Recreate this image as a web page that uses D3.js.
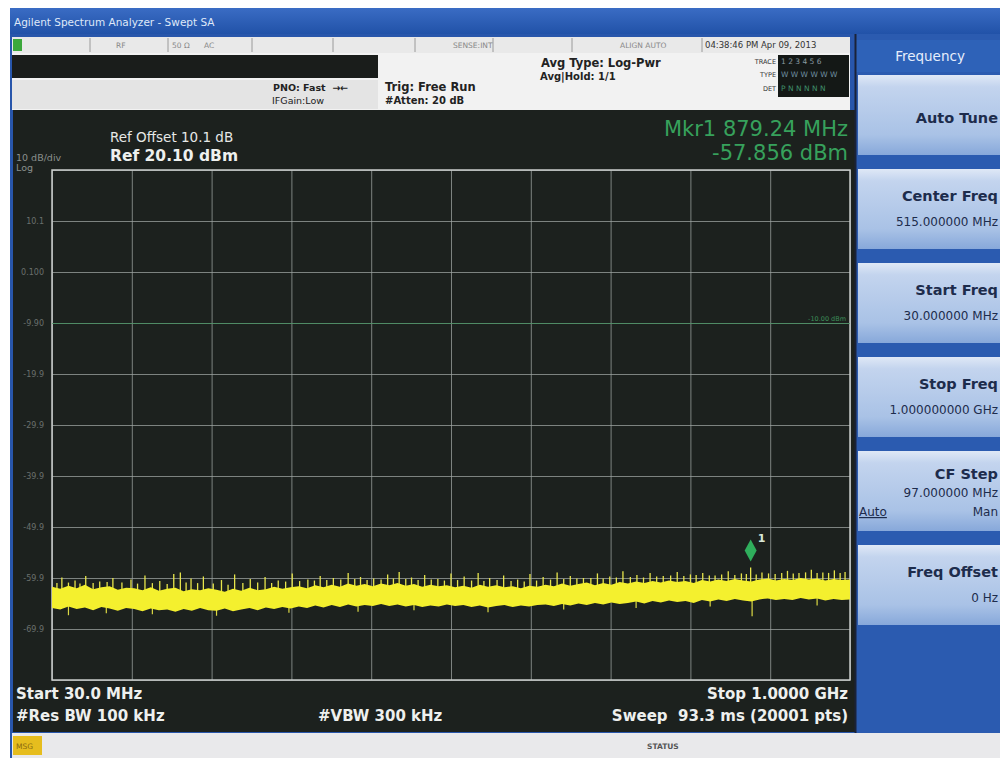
<!DOCTYPE html>
<html>
<head>
<meta charset="utf-8">
<script src="https://cdn.jsdelivr.net/npm/d3@7"></script>
<style>
body { margin: 0; background: #fff; }
text { font-family: "DejaVu Sans", "Liberation Sans", Arial, sans-serif; white-space: pre; }
</style>
</head>
<body>
<div id="chart"></div>
<script>
const startMHz = 30, stopMHz = 1000
const refLevel = 20.1, dbPerDiv = 10, divisions = 10

const yTickValues = [10.1, 0.1, -9.9, -19.9, -29.9, -39.9, -49.9, -59.9, -69.9]
const yTickLabels = ['10.1', '0.100', '-9.90', '-19.9', '-29.9', '-39.9', '-49.9', '-59.9', '-69.9']

// envelope of the noise trace, one pair every 10 MHz from 30 MHz to 1000 MHz
const envFreqs = [30,40,50,60,70,80,90,100,110,120,130,140,150,160,170,180,190,200,210,220,
  230,240,250,260,270,280,290,300,310,320,330,340,350,360,370,380,390,400,410,420,
  430,440,450,460,470,480,490,500,510,520,530,540,550,560,570,580,590,600,610,620,
  630,640,650,660,670,680,690,700,710,720,730,740,750,760,770,780,790,800,810,820,
  830,840,850,860,870,880,890,900,910,920,930,940,950,960,970,980,990,1000]

const envTop = [-61.6,-62.0,-61.4,-61.9,-61.2,-62.1,-61.7,-61.5,-62.2,-61.8,
  -61.9,-62.3,-61.7,-62.4,-62.0,-61.8,-62.5,-62.1,-62.3,-61.9,
  -62.2,-62.6,-62.0,-62.4,-61.8,-62.3,-62.1,-61.6,-62.0,-61.7,
  -61.5,-61.9,-61.3,-61.7,-61.2,-61.6,-61.0,-61.4,-61.1,-61.5,
  -61.0,-61.3,-60.9,-61.4,-61.1,-61.6,-61.2,-61.5,-61.3,-61.7,
  -61.4,-61.8,-61.2,-61.6,-61.3,-61.7,-61.5,-61.9,-61.4,-61.6,
  -61.2,-61.5,-61.0,-61.4,-61.1,-60.8,-61.3,-60.9,-61.2,-60.7,
  -61.0,-60.6,-60.9,-60.5,-60.8,-60.4,-60.7,-60.5,-60.9,-60.3,
  -60.6,-60.2,-60.5,-60.1,-60.4,-60.6,-60.2,-60.0,-60.4,-60.1,
  -60.3,-59.9,-60.2,-60.0,-60.4,-60.1,-60.3,-60.2]

const envBottom = [-65.8,-66.1,-65.5,-66.0,-65.7,-66.2,-65.6,-65.9,-66.3,-65.8,
  -66.0,-66.4,-65.9,-66.2,-66.1,-66.5,-66.0,-66.3,-65.8,-66.2,
  -66.3,-65.9,-66.4,-66.1,-65.8,-66.2,-65.7,-66.0,-65.6,-65.9,
  -65.5,-65.8,-65.3,-65.7,-65.2,-65.6,-65.1,-65.5,-65.2,-65.4,
  -65.0,-65.4,-65.1,-65.5,-65.2,-65.6,-65.3,-65.5,-65.1,-65.4,
  -65.2,-65.6,-65.3,-65.7,-65.4,-65.2,-65.6,-65.3,-65.5,-65.2,
  -65.1,-65.4,-65.0,-65.3,-64.9,-65.2,-64.8,-65.1,-64.7,-65.0,
  -64.8,-64.5,-64.9,-64.4,-64.7,-64.3,-64.6,-64.4,-64.8,-64.2,
  -64.5,-64.1,-64.4,-64.0,-64.3,-64.5,-64.1,-63.9,-64.2,-64.0,
  -64.2,-63.8,-64.1,-63.9,-64.3,-64.0,-64.2,-64.1]

// [MHz, dBm] peaks poking above the noise band
const spikes = [[36,-60.9],[42,-59.8],[50,-60.8],[58,-60.4],[64,-61.0],[71,-59.5],[80,-60.9],[88,-60.6],
  [97,-60.7],[104,-59.9],[115,-60.8],[126,-60.2],[134,-61.0],[143,-59.4],[152,-60.9],[161,-60.5],
  [170,-61.1],[178,-59.1],[186,-58.8],[193,-60.8],[199,-60.0],[207,-60.9],[214,-59.6],[226,-61.0],
  [236,-60.3],[244,-61.2],[252,-59.2],[262,-60.9],[271,-60.1],[280,-60.8],[289,-59.7],[297,-60.9],
  [305,-60.4],[314,-60.6],[322,-59.0],[331,-60.5],[341,-60.2],[349,-60.4],[356,-59.5],[364,-60.3],
  [372,-59.9],[381,-60.2],[390,-58.9],[398,-60.1],[405,-59.7],[413,-60.3],[421,-60.0],[430,-60.2],
  [438,-59.2],[445,-60.0],[452,-58.7],[460,-60.1],[467,-59.8],[475,-60.3],[483,-59.3],[491,-60.2],
  [499,-60.1],[507,-60.4],[515,-59.0],[523,-60.3],[531,-59.6],[540,-60.4],[548,-58.9],[555,-60.5],
  [562,-59.9],[571,-60.3],[579,-59.4],[588,-60.5],[596,-60.2],[604,-60.6],[611,-59.1],[619,-60.4],
  [627,-59.7],[636,-60.2],[644,-58.8],[652,-60.1],[660,-59.5],[668,-60.0],[676,-59.9],[685,-59.9],
  [693,-59.0],[700,-60.0],[708,-59.6],[716,-59.8],[724,-58.6],[733,-59.7],[741,-59.3],[749,-59.8],
  [757,-58.9],[765,-59.6],[773,-59.5],[782,-59.4],[790,-58.7],[798,-59.5],[806,-59.2],[813,-59.3],
  [821,-58.9],[829,-59.4],[836,-59.4],[844,-59.2],[852,-58.6],[860,-59.3],[868,-59.0],[874,-59.1],
  [879.24,-57.856],[886,-59.2],[893,-58.8],[901,-59.0],[909,-59.1],[917,-58.9],[924,-58.5],
  [931,-59.0],[938,-58.9],[946,-58.8],[953,-58.3],[960,-58.9],[967,-58.8],[974,-58.9],[981,-58.4],
  [988,-58.9],[994,-58.7]]

// [MHz, dBm] dips below the noise band
const dips = [[50,-67.2],[96,-66.8],[152,-67.0],[230,-67.3],[318,-66.7],[402,-66.5],[470,-66.2],
  [560,-66.6],[652,-66.1],[740,-65.8],[830,-65.5],[881,-67.4],[960,-65.3]]

const marker = {num: 1, freq: 879.24, level: -57.856}
const displayLine = -10

const softkeys = [
  {label: 'Auto Tune'},
  {label: 'Center Freq', value: '515.000000 MHz'},
  {label: 'Start Freq', value: '30.000000 MHz'},
  {label: 'Stop Freq', value: '1.000000000 GHz'},
  {label: 'CF Step', value: '97.000000 MHz', auto: true},
  {label: 'Freq Offset', value: '0 Hz'}
]

const width = 1000, height = 758
const plot = {left: 52, right: 850, top: 170, bottom: 680}

const svg = d3.select('#chart')
  .append('svg')
  .attr('width', width)
  .attr('height', height)

const defs = svg.append('defs')

const keyGrad = defs.append('linearGradient').attr('id', 'key').attr('x1', 0).attr('y1', 0).attr('x2', 0).attr('y2', 1)
keyGrad.append('stop').attr('offset', '0%').attr('stop-color', '#dfe8f6')
keyGrad.append('stop').attr('offset', '15%').attr('stop-color', '#c3d4ee')
keyGrad.append('stop').attr('offset', '75%').attr('stop-color', '#a9c2e6')
keyGrad.append('stop').attr('offset', '100%').attr('stop-color', '#87a8da')

const titleGrad = defs.append('linearGradient').attr('id', 'title').attr('x1', 0).attr('y1', 0).attr('x2', 0).attr('y2', 1)
titleGrad.append('stop').attr('offset', '0%').attr('stop-color', '#3a6cc4')
titleGrad.append('stop').attr('offset', '100%').attr('stop-color', '#2152a8')

defs.append('clipPath').attr('id', 'plot-clip')
  .append('rect').attr('x', plot.left).attr('y', plot.top)
  .attr('width', plot.right - plot.left).attr('height', plot.bottom - plot.top)

// window frame
svg.append('rect').attr('x', 10).attr('y', 8).attr('width', 990).attr('height', 750).attr('fill', '#2856ab')
svg.append('rect').attr('x', 10).attr('y', 8).attr('width', 990).attr('height', 26).attr('fill', 'url(#title)')
svg.append('text').attr('x', 14).attr('y', 26)
  .attr('font-size', 10.5).attr('fill', '#dfe8f8')
  .text('Agilent Spectrum Analyzer - Swept SA')

// status strip
const strip = svg.append('g')
strip.append('rect').attr('x', 12).attr('y', 37).attr('width', 838).attr('height', 16).attr('fill', '#e9e9e9')
strip.append('rect').attr('x', 13).attr('y', 39).attr('width', 9).attr('height', 12).attr('fill', '#3ca83c')
strip.selectAll('line')
  .data([90, 168, 252, 333, 415, 493, 572, 702])
  .enter().append('line')
  .attr('x1', d => d).attr('x2', d => d).attr('y1', 38).attr('y2', 52)
  .attr('stroke', '#9a9a9a')
strip.selectAll('text')
  .data([[116, 'RF'], [172, '50 Ω'], [204, 'AC'], [453, 'SENSE:INT'], [620, 'ALIGN AUTO'], [705, '04:38:46 PM Apr 09, 2013']])
  .enter().append('text')
  .attr('x', d => d[0]).attr('y', 48)
  .attr('font-size', d => d[0] > 700 ? 8.5 : 7.5)
  .attr('fill', d => d[0] > 700 ? '#333' : '#888')
  .text(d => d[1])

// settings area
const info = svg.append('g')
info.append('rect').attr('x', 12).attr('y', 53).attr('width', 838).attr('height', 57).attr('fill', '#f2f2f2')
info.append('rect').attr('x', 12).attr('y', 55).attr('width', 366).attr('height', 23).attr('fill', '#1a1d1b')
info.append('rect').attr('x', 12).attr('y', 80).attr('width', 366).attr('height', 29).attr('fill', '#e4e4e4')
info.append('text').attr('x', 273).attr('y', 91).attr('font-size', 9.5).attr('font-weight', 'bold').attr('fill', '#222').text('PNO: Fast  →←')
info.append('text').attr('x', 272).attr('y', 104).attr('font-size', 9.5).attr('fill', '#222').text('IFGain:Low')
info.append('text').attr('x', 385).attr('y', 91).attr('font-size', 11.5).attr('font-weight', 'bold').attr('fill', '#222').text('Trig: Free Run')
info.append('text').attr('x', 385).attr('y', 104).attr('font-size', 10).attr('font-weight', 'bold').attr('fill', '#222').text('#Atten: 20 dB')
info.append('text').attr('x', 541).attr('y', 67).attr('font-size', 11.5).attr('font-weight', 'bold').attr('fill', '#222').text('Avg Type: Log-Pwr')
info.append('text').attr('x', 540).attr('y', 80).attr('font-size', 10).attr('font-weight', 'bold').attr('fill', '#222').text('Avg|Hold: 1/1')
info.selectAll('.lbl')
  .data([[64, 'TRACE'], [77, 'TYPE'], [91, 'DET']])
  .enter().append('text')
  .attr('class', 'lbl')
  .attr('x', 776).attr('y', d => d[0])
  .attr('text-anchor', 'end').attr('font-size', 6.5).attr('fill', '#333')
  .text(d => d[1])
info.append('rect').attr('x', 778).attr('y', 55).attr('width', 71).attr('height', 42).attr('fill', '#141816')
info.selectAll('.trc')
  .data([[64, '1 2 3 4 5 6', '#8a9aa0'], [77, 'W W W W W W', '#6f8fa0'], [91, 'P N N N N N', '#3f8f6a']])
  .enter().append('text')
  .attr('class', 'trc')
  .attr('x', 781).attr('y', d => d[0])
  .attr('font-size', 7.5).attr('fill', d => d[2])
  .text(d => d[1])

// instrument screen
svg.append('rect').attr('x', 13).attr('y', 110).attr('width', 842).attr('height', 622).attr('fill', '#1c211e')

const x = d3.scaleLinear().domain([startMHz, stopMHz]).range([plot.left, plot.right])
const y = d3.scaleLinear().domain([refLevel - dbPerDiv * divisions, refLevel]).range([plot.bottom, plot.top])

const xGrid = d3.range(divisions + 1).map(i => startMHz + i * (stopMHz - startMHz) / divisions)
const yGrid = d3.range(divisions + 1).map(i => refLevel - i * dbPerDiv)

svg.append('g')
  .attr('transform', `translate(0,${plot.bottom})`)
  .call(d3.axisBottom(x).tickValues(xGrid).tickSize(-(plot.bottom - plot.top)).tickFormat(''))
  .call(g => g.select('.domain').remove())
  .selectAll('line')
  .attr('stroke', '#9ea4a1').attr('stroke-opacity', 0.75)

svg.append('g')
  .attr('transform', `translate(${plot.left},0)`)
  .call(d3.axisLeft(y).tickValues(yGrid).tickSize(-(plot.right - plot.left)).tickFormat(''))
  .call(g => g.select('.domain').remove())
  .selectAll('line')
  .attr('stroke', '#9ea4a1').attr('stroke-opacity', 0.75)

svg.append('g')
  .selectAll('text')
  .data(yTickValues)
  .enter().append('text')
  .attr('x', 44)
  .attr('y', d => y(d) + 3)
  .attr('text-anchor', 'end')
  .attr('font-size', 8)
  .attr('fill', '#6a706d')
  .text((d, i) => yTickLabels[i])

svg.append('rect')
  .attr('x', plot.left).attr('y', plot.top)
  .attr('width', plot.right - plot.left).attr('height', plot.bottom - plot.top)
  .attr('fill', 'none').attr('stroke', '#c9cdcb').attr('stroke-width', 1.5)

// display line
svg.append('line')
  .attr('x1', plot.left).attr('x2', plot.right)
  .attr('y1', y(displayLine)).attr('y2', y(displayLine))
  .attr('stroke', '#3c8f5a').attr('stroke-opacity', 0.7)
svg.append('text')
  .attr('x', 846).attr('y', y(displayLine) - 3)
  .attr('text-anchor', 'end').attr('font-size', 6.5).attr('fill', '#3c8f5a')
  .text('-10.00 dBm')

// trace
const trace = svg.append('g').attr('clip-path', 'url(#plot-clip)')

const band = envFreqs.map((f, i) => ({f: f, top: envTop[i], bottom: envBottom[i]}))
const nearest = f => band[Math.max(0, Math.min(band.length - 1, Math.round((f - startMHz) / 10)))]

trace.selectAll('.spike')
  .data(spikes)
  .enter().append('line')
  .attr('class', 'spike')
  .attr('x1', d => x(d[0])).attr('x2', d => x(d[0]))
  .attr('y1', d => y(nearest(d[0]).top) + 4)
  .attr('y2', d => y(d[1]))
  .attr('stroke', '#e8e64c').attr('stroke-width', 1.3)

trace.selectAll('.dip')
  .data(dips)
  .enter().append('line')
  .attr('class', 'dip')
  .attr('x1', d => x(d[0])).attr('x2', d => x(d[0]))
  .attr('y1', d => y(nearest(d[0]).bottom) - 4)
  .attr('y2', d => y(d[1]))
  .attr('stroke', '#dcda44').attr('stroke-width', 1.2)

trace.append('path')
  .datum(band)
  .attr('d', d3.area().x(d => x(d.f)).y0(d => y(d.bottom)).y1(d => y(d.top)))
  .attr('fill', '#f4f02e')

// marker
const mx = x(marker.freq), my = y(marker.level)
svg.append('path')
  .attr('d', `M${mx},${my - 28} L${mx + 6},${my - 17} L${mx},${my - 6} L${mx - 6},${my - 17} Z`)
  .attr('fill', '#2fae5c')
svg.append('text')
  .attr('x', mx + 7).attr('y', my - 26)
  .attr('font-size', 11).attr('font-weight', 'bold').attr('fill', '#d8e8d8')
  .text(marker.num)

// screen annotations
const ann = svg.append('g')
ann.append('text').attr('x', 110).attr('y', 142).attr('font-size', 13.5).attr('fill', '#e6e8e6').text('Ref Offset 10.1 dB')
ann.append('text').attr('x', 110).attr('y', 161).attr('font-size', 15.5).attr('font-weight', 'bold').attr('fill', '#eef0ee').text('Ref 20.10 dBm')
ann.append('text').attr('x', 16).attr('y', 161).attr('font-size', 9.5).attr('fill', '#8a908d').text('10 dB/div')
ann.append('text').attr('x', 16).attr('y', 171).attr('font-size', 9.5).attr('fill', '#8a908d').text('Log')
ann.append('text').attr('x', 848).attr('y', 136).attr('text-anchor', 'end').attr('font-size', 21).attr('fill', '#37a15c')
  .text(`Mkr${marker.num} ${marker.freq.toFixed(2)} MHz`)
ann.append('text').attr('x', 848).attr('y', 160).attr('text-anchor', 'end').attr('font-size', 21).attr('fill', '#37a15c')
  .text(`${marker.level.toFixed(3)} dBm`)

ann.append('text').attr('x', 16).attr('y', 699).attr('font-size', 15).attr('font-weight', 'bold').attr('fill', '#eef0ee').text(`Start ${startMHz.toFixed(1)} MHz`)
ann.append('text').attr('x', 16).attr('y', 721).attr('font-size', 15).attr('font-weight', 'bold').attr('fill', '#eef0ee').text('#Res BW 100 kHz')
ann.append('text').attr('x', 318).attr('y', 721).attr('font-size', 15).attr('font-weight', 'bold').attr('fill', '#eef0ee').text('#VBW 300 kHz')
ann.append('text').attr('x', 848).attr('y', 699).attr('text-anchor', 'end').attr('font-size', 15).attr('font-weight', 'bold').attr('fill', '#eef0ee').text(`Stop ${(stopMHz / 1000).toFixed(4)} GHz`)
ann.append('text').attr('x', 848).attr('y', 721).attr('text-anchor', 'end').attr('font-size', 15).attr('font-weight', 'bold').attr('fill', '#eef0ee').text('Sweep  93.3 ms (20001 pts)')

// message bar
svg.append('rect').attr('x', 12).attr('y', 733).attr('width', 988).attr('height', 25).attr('fill', '#e9e9eb')
svg.append('rect').attr('x', 13).attr('y', 736).attr('width', 29).attr('height', 19).attr('fill', '#e6bd1e')
svg.append('text').attr('x', 16).attr('y', 749).attr('font-size', 7.5).attr('fill', '#8a6a10').text('MSG')
svg.append('text').attr('x', 647).attr('y', 749).attr('font-size', 7.5).attr('font-weight', 'bold').attr('fill', '#555').text('STATUS')

// softkey panel
const panel = svg.append('g')
panel.append('rect').attr('x', 856).attr('y', 34).attr('width', 144).attr('height', 699).attr('fill', '#2b5bb0')
panel.append('rect').attr('x', 856).attr('y', 40).attr('width', 144).attr('height', 32).attr('fill', '#2e62b8')
panel.append('text').attr('x', 930).attr('y', 61).attr('text-anchor', 'middle')
  .attr('font-size', 13.5).attr('fill', '#e6eefc').text('Frequency')

const keyTop = i => 75 + i * 94

const keys = panel.selectAll('.key')
  .data(softkeys)
  .enter().append('g')
  .attr('class', 'key')
  .attr('transform', (d, i) => `translate(0,${keyTop(i)})`)

keys.append('rect').attr('x', 858).attr('y', 0).attr('width', 142).attr('height', 80).attr('fill', 'url(#key)')

keys.append('text')
  .attr('x', 998)
  .attr('y', d => !d.value ? 48 : d.auto ? 28 : 32)
  .attr('text-anchor', 'end').attr('font-size', 14.5).attr('font-weight', 'bold').attr('fill', '#1d2c4c')
  .text(d => d.label)

keys.filter(d => d.value)
  .append('text')
  .attr('x', 998)
  .attr('y', d => d.auto ? 46 : 57)
  .attr('text-anchor', 'end').attr('font-size', 12).attr('fill', '#1d2c4c')
  .text(d => d.value)

const autoKey = keys.filter(d => d.auto)
autoKey.append('text').attr('x', 859).attr('y', 65).attr('font-size', 12).attr('fill', '#1d2c4c')
  .attr('text-decoration', 'underline').text('Auto')
autoKey.append('text').attr('x', 998).attr('y', 65).attr('text-anchor', 'end').attr('font-size', 12).attr('fill', '#1d2c4c').text('Man')

// divider between screen and softkeys
svg.append('line').attr('x1', 855.5).attr('x2', 855.5).attr('y1', 34).attr('y2', 733).attr('stroke', '#1a2238').attr('stroke-width', 2)
</script>
</body>
</html>
